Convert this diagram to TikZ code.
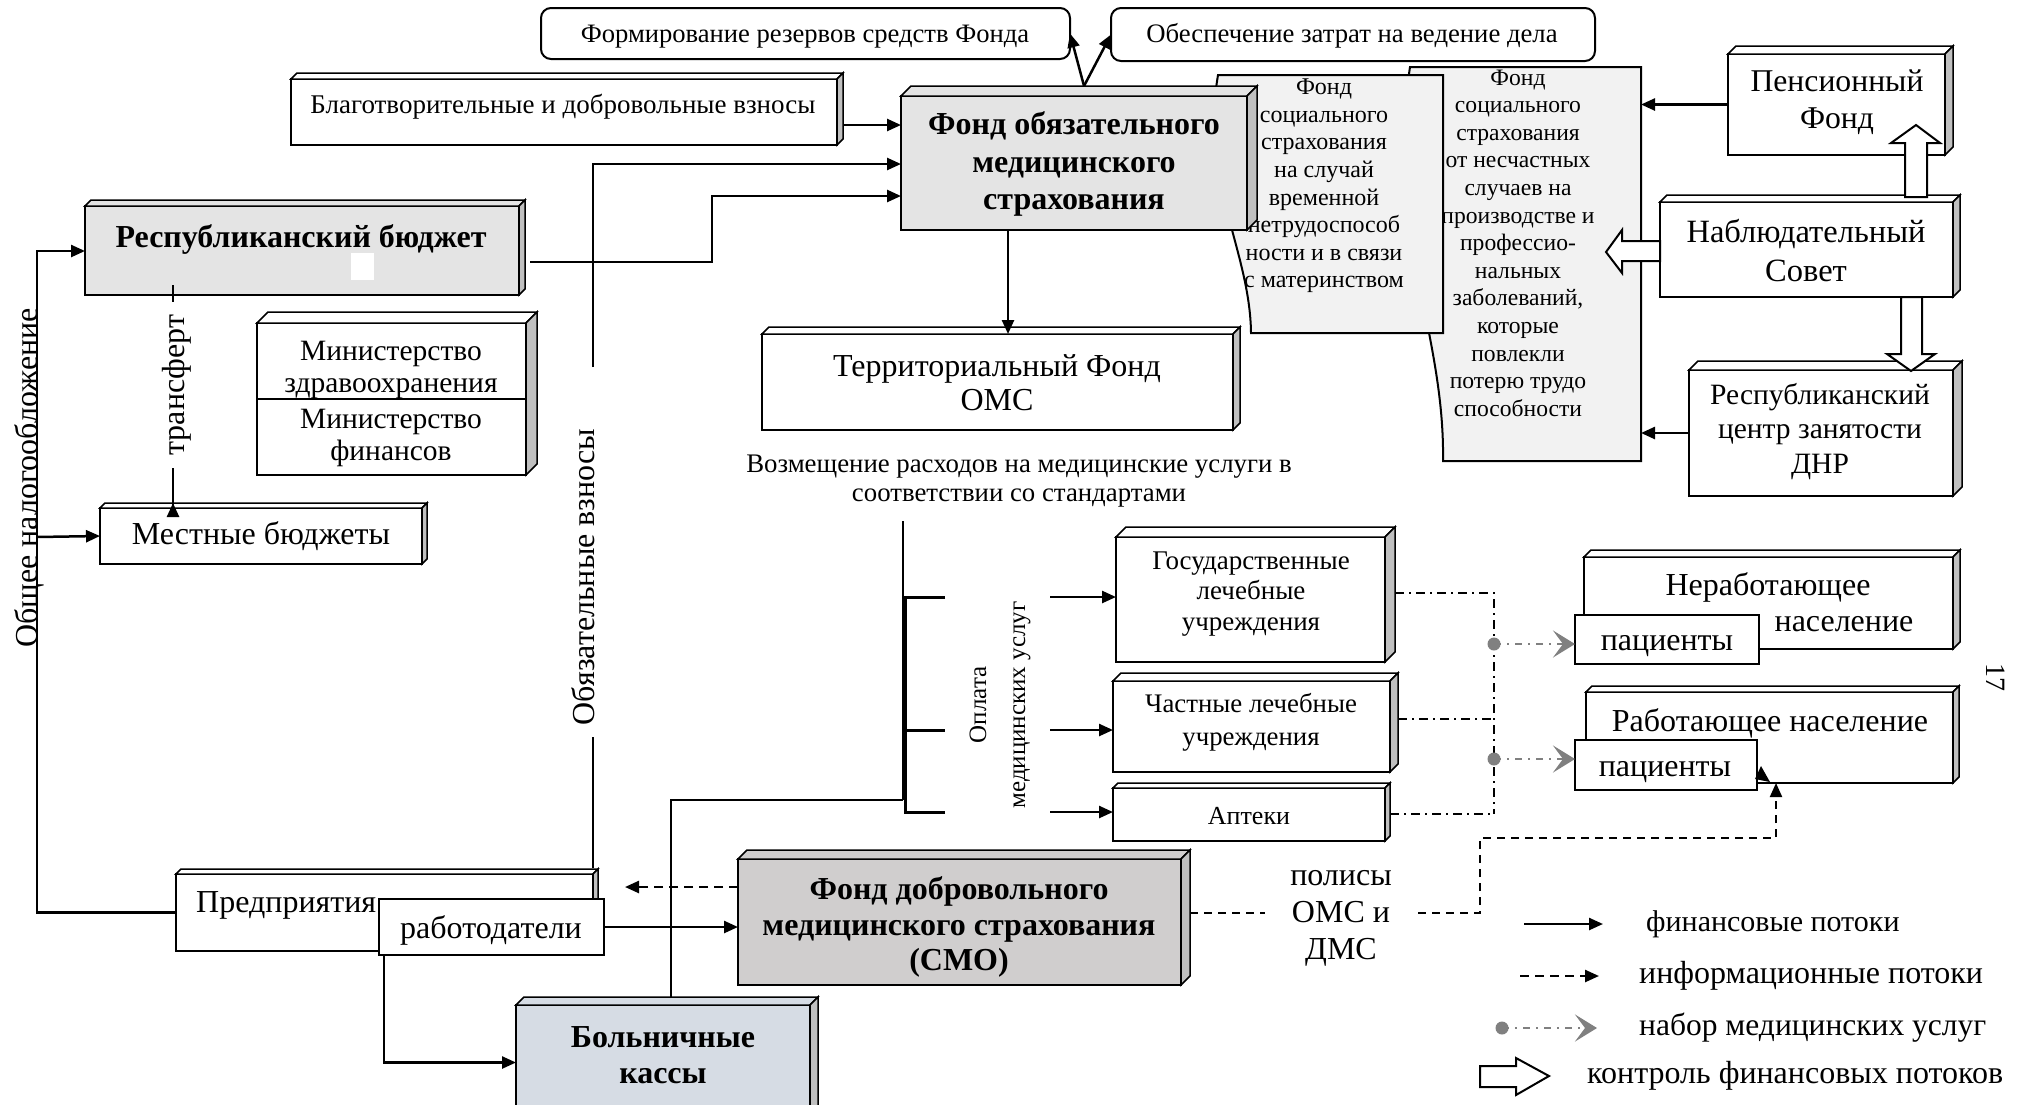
\documentclass[tikz,border=0pt]{standalone}
\usepackage{fontspec}
\setmainfont{Liberation Serif}
\usetikzlibrary{arrows.meta,calc}
\definecolor{sidegray}{HTML}{C0C0C0}
\definecolor{fomsgray}{HTML}{E4E4E4}
\definecolor{fdmsgray}{HTML}{D0CECE}
\definecolor{bkblue}{HTML}{D6DCE4}
\definecolor{socfill}{HTML}{F2F2F2}
\definecolor{midgray}{HTML}{808080}
\newcommand\fz[2]{\fontsize{#1pt}{#2pt}\selectfont}
\newcommand\bx[7]{%
  \node[bx,#7,minimum width={(#4-#2)*1pt},minimum height={(#5-#3)*1pt}] (#1) at ({(#2+#4)/2},{(#3+#5)/2}) {};
  \ifnum#6>0
    \filldraw[bxtop,#7] (#1.north west) -- ++(#6,-#6) -- ++({#4-#2},0) -- (#1.north east) -- cycle;
    \filldraw[bxside] (#1.north east) -- ++(#6,-#6) -- ++(0,{#5-#3}) -- (#1.south east) -- cycle;
  \fi}
\tikzset{
  bx/.style={draw, line width=2pt, fill=white, inner sep=0pt, outer sep=0pt},
  bxtop/.style={draw, line width=1.5pt, fill=white},
  bxside/.style={draw, line width=1.5pt, fill=sidegray},
  socf/.style={draw, line width=2pt, fill=socfill},
  txt/.style={inner sep=0pt, align=center},
  fl/.style={line width=2.5pt, -{Triangle[length=14pt,width=12pt]}},
  ln/.style={line width=2.5pt},
  dl/.style={line width=2.5pt, dash pattern=on 9pt off 6pt},
  dlt/.style={line width=2pt, dash pattern=on 8pt off 6pt},
  dd/.style={line width=1.5pt, dash pattern=on 9pt off 5pt on 2pt off 5pt},
  gl/.style={line width=2.5pt, draw=midgray, dash pattern=on 7pt off 6pt on 2pt off 6pt, -{Stealth[length=22pt,width=27pt,inset=10pt,fill=midgray]}},
  gdot/.style={fill=midgray, draw=none, circle, minimum size=13pt, inner sep=0pt},
  blk/.style={draw, line width=2pt, fill=white, line join=miter},
}
\begin{document}
\begin{tikzpicture}[x=1pt,y=-1pt]
\useasboundingbox (0,0) rectangle (2024,1104);
\fill[white] (0,0) rectangle (2024,1104);

% top rounded boxes
\bx{form}{541}{8}{1070}{59}{0}{rounded corners=10pt}
\node[txt,font=\fz{26.6}{30}] (formt) at (805,37) {Формирование резервов средств Фонда};
\bx{obesp}{1111}{8}{1595}{61}{0}{rounded corners=10pt}
\node[txt,font=\fz{26.7}{30}] (obespt) at (1352,36) {Обеспечение затрат на ведение дела};

\bx{blag}{291}{79}{837}{145}{6}{}
\node[txt,font=\fz{27}{32}] (blagt) at (563,107) {Благотворительные и добровольные взносы};

% social insurance funds
\filldraw[socf] (1410,67) -- (1641,67) -- (1641,461) -- (1443,461) .. controls (1445,330) and (1385,230) .. (1410,67) -- cycle;
\coordinate (soc2e) at (1641,264);
\node[txt,font=\fz{23.6}{27.6}] (soc2t) at (1518,243) {Фонд\\социального\\страхования\\от несчастных\\случаев на\\производстве и\\профессио-\\нальных\\заболеваний,\\которые\\повлекли\\потерю трудо\\способности};
\filldraw[socf] (1218,75) -- (1443,75) -- (1443,333) -- (1251,333) .. controls (1250,250) and (1200,180) .. (1218,75) -- cycle;
\node[txt,font=\fz{24}{27.6}] (soc1t) at (1324,186) {Фонд\\социального\\страхования\\на случай\\временной\\нетрудоспособ\\ности и в связи\\с материнством};

% FOMS
\bx{foms}{901}{96}{1247}{230}{10}{fill=fomsgray}
\node[txt,font=\bfseries\fz{32}{37.5}] (fomst) at (1074,164) {Фонд обязательного\\медицинского\\страхования};

% Republican budget
\bx{rb}{85}{206}{519}{295}{6}{fill=fomsgray}
\fill[white] (351,253) rectangle (374,280);
\node[txt,font=\bfseries\fz{32}{36}] (rbt) at (301,239) {Республиканский бюджет};

% ministries
\bx{min}{257}{323}{526}{475}{11}{}
\draw[line width=2pt] (min.west |- 0,399) -- (min.east |- 0,399);
\node[txt,font=\fz{29.5}{32}] (min1) at (391,370) {Министерство\\здравоохранения};
\node[txt,font=\fz{29.5}{32}] (min2) at (391,437.5) {Министерство\\финансов};

\bx{mest}{100}{508}{422}{564}{5}{}
\node[txt,font=\fz{32}{34}] (mestt) at (261,536) {Местные бюджеты};

\bx{pred}{176}{874}{593}{951}{5}{}
\node[txt,anchor=west,font=\fz{32}{34}] (predt) at (196,905) {Предприятия};
\bx{rab}{379}{899}{604}{955}{0}{}
\node[txt,font=\fz{32}{34}] (rabt) at (491,930) {работодатели};

\bx{bk}{516}{1005}{810}{1120}{8}{fill=bkblue}
\node[txt,font=\bfseries\fz{32}{36}] (bkt) at (663,1055) {Больничные\\кассы};

\bx{fdms}{738}{859}{1181}{985}{9}{fill=fdmsgray}
\node[txt,font=\bfseries\fz{32}{35.5}] (fdmst) at (959,927) {Фонд добровольного\\медицинского страхования\\(СМО)};

\bx{tfoms}{762}{334}{1233}{430}{7}{}
\node[txt,font=\fz{32}{34}] (tfomst) at (997,383) {Территориальный Фонд\\ОМС};

\node[txt,font=\fz{26.8}{29}] (vozm) at (1019,481) {Возмещение расходов на медицинские услуги в\\соответствии со стандартами};

% medical institutions
\bx{gos}{1116}{537}{1385}{662}{10}{}
\node[txt,font=\fz{27}{30.5}] (gost) at (1251,594) {Государственные\\лечебные\\учреждения};
\bx{chast}{1113}{681}{1390}{772}{8}{}
\node[txt,font=\fz{26.8}{33}] (chastt) at (1251,722) {Частные лечебные\\учреждения};
\bx{apt}{1113}{788}{1385}{841}{5}{}
\node[txt,font=\fz{26}{30}] (aptt) at (1249,816) {Аптеки};

\node[txt,rotate=90,font=\fz{25}{39}] (opl) at (1000,705) {Оплата\\медицинских услуг};

% population
\bx{nerab}{1584}{557}{1953}{649}{7}{}
\node[txt,font=\fz{32}{34}] (nerab1) at (1768,587) {Неработающее};
\node[txt,font=\fz{32}{34}] (nerab2) at (1844,624) {население};
\bx{pac1}{1575}{615}{1759}{664}{0}{}
\node[txt,font=\fz{32}{34}] (pac1t) at (1667,646) {пациенты};
\bx{rabn}{1586}{692}{1953}{783}{6}{}
\node[txt,font=\fz{32}{34}] (rabnt) at (1770,723) {Работающее население};
\bx{pac2}{1575}{740}{1757}{790}{0}{}
\node[txt,font=\fz{32}{34}] (pac2t) at (1665,772) {пациенты};

% right column
\bx{pens}{1728}{54}{1945}{155}{8}{}
\node[txt,font=\fz{31.7}{37}] (penst) at (1837,102.5) {Пенсионный\\Фонд};
\bx{nabl}{1660}{202}{1953}{297}{7}{}
\node[txt,font=\fz{32.5}{39}] (nablt) at (1806,250.5) {Наблюдательный\\Совет};
\bx{rcz}{1689}{370}{1953}{496}{9}{}
\node[txt,font=\fz{29.5}{34.5}] (rczt) at (1820,431.5) {Республиканский\\центр занятости\\ДНР};

% block arrows (control)
\filldraw[blk] (1660,241) -- (1622,241) -- (1622,230) -- (1606,252) -- (1622,273) -- (1622,261) -- (1660,261) -- cycle;
\filldraw[blk] (1905,197) -- (1905,143) -- (1891,143) -- (1916,125) -- (1940,143) -- (1927,143) -- (1927,197) -- cycle;
\filldraw[blk] (1901,297) -- (1901,354) -- (1887,354) -- (1911,371) -- (1935,354) -- (1922,354) -- (1922,297) -- cycle;

% arrows into social fund
\draw[fl] (pens.west) -- (pens.west -| soc2e);
\draw[fl] (rcz.west) -- (rcz.west -| soc2e);

% arrows from FOMS top
\coordinate (fomstop) at (1084,86);
\draw[fl] (fomstop) -- (form.east);
\draw[fl] (fomstop) -- (obesp.west);

% into FOMS
\coordinate (b1) at (843,125);
\draw[fl] (b1) -- (b1 -| foms.west);
\coordinate (rbe) at (530,262);
\draw[fl] (rbe) -- ++(182,0) |- (foms.west |- 0,196);
\coordinate (obtop) at (593,367);
\coordinate (obbot) at (593,737);
\coordinate (obpred) at (593,868);
\draw[ln] (obpred) -- (obbot);
\draw[fl] (obtop) |- (foms.west |- 0,164);
\node[txt,rotate=90,anchor=base,font=\fz{32}{34}] (obt) at (594,577) {Обязательные взносы};

% FOMS -> territorial
\coordinate (ft) at (1008,230);
\draw[fl] (ft) -- (ft |- tfoms.north);

% taxation
\coordinate (tx) at (37,251);
\draw[fl] (pred.west) -| (tx) -- (tx -| rb.west);
\coordinate (txb) at (37,537);
\draw[fl] (txb) -- (mest.west);
\node[txt,rotate=90,anchor=base,font=\fz{32}{34}] (txt1) at (37,478) {Общее налогообложение};

% transfer
\coordinate (tr1) at (173,285);
\coordinate (tr2) at (173,302);
\coordinate (tr3) at (173,468);
\draw[ln] (tr1) -- (tr2);
\draw[fl] (tr3) -- (tr3 |- mest.north) -- ++(0,-5);
\node[txt,rotate=90,anchor=base,font=\fz{32}{34}] (trt) at (184,385) {трансферт};

% employers
\draw[fl] (rab.east) -- (rab.east -| fdms.west);
\coordinate (rbs) at (384,955);
\draw[fl] (rbs) |- (bk.west);
\coordinate (predtip) at (625,887);
\draw[dl,-{Triangle[length=14pt,width=12pt]}] (fdms.west |- predtip) -- (predtip);

% payment bracket
\coordinate (br1) at (903,521);
\draw[ln] (br1) -- (903,800);
\coordinate (bkt2) at (671,998);
\draw[line width=2pt] (bkt2) |- (903,800);
\draw[line width=3pt] (945,597) -- (905,597) -- (905,812) -- (945,812);
\draw[line width=3pt] (905,730) -- (945,730);
\coordinate (a1) at (1050,597);
\coordinate (a2) at (1050,730);
\coordinate (a3) at (1050,812);
\draw[fl] (a1) -- (a1 -| gos.west);
\draw[fl] (a2) -- (a2 -| chast.west);
\draw[fl] (a3) -- (a3 -| apt.west);

% dash-dot from institutions
\draw[dd] (1395,593) -| (1494,814);
\draw[dd] (1398,719) -- (1494,719);
\draw[dd] (1390,814) -- (1494,814);
\node[gdot] (g1) at (1494,644) {};
\draw[gl] (g1.center) -- (g1.center -| pac1.west);
\node[gdot] (g2) at (1494,759) {};
\draw[gl] (g2.center) -- (g2.center -| pac2.west);

% policies
\node[txt,font=\fz{32}{37}] (pol) at (1341,918) {полисы\\ОМС и\\ДМС};
\coordinate (pl1) at (1190,913);
\coordinate (pl2) at (1265,913);
\coordinate (pl3) at (1418,913);
\draw[dlt] (pl1) -- (pl2);
\draw[dlt,-{Triangle[length=14pt,width=12pt]}] (pl3) -- (1480,913) |- (1776,838) -- (rabn.south -| 1776,0);
\fill (1755,779) -- (1761,766) -- (1770,782) -- cycle;

% page number
\node[txt,rotate=-90,font=\fz{28}{32}] (pg) at (1996,677) {17};

% legend
\coordinate (l1a) at (1524,924); \coordinate (l1b) at (1603,924);
\draw[fl] (l1a) -- (l1b);
\node[txt,anchor=west,font=\fz{30}{34}] (lt1) at (1646,924) {финансовые потоки};
\coordinate (l2a) at (1520,976); \coordinate (l2b) at (1599,976);
\draw[dl,-{Triangle[length=14pt,width=12pt]}] (l2a) -- (l2b);
\node[txt,anchor=west,font=\fz{32}{34}] (lt2) at (1639,976) {информационные потоки};
\node[gdot] (l3a) at (1502,1028) {};
\coordinate (l3b) at (1597,1028);
\draw[gl] (l3a.center) -- (l3b);
\node[txt,anchor=west,font=\fz{31.5}{34}] (lt3) at (1639,1028) {набор медицинских услуг};
\filldraw[blk] (1480,1066) -- (1516,1066) -- (1516,1058) -- (1549,1076) -- (1516,1095) -- (1516,1087) -- (1480,1087) -- cycle;
\node[txt,anchor=west,font=\fz{32}{34}] (lt4) at (1587,1076) {контроль финансовых потоков};
\end{tikzpicture}
\end{document}
